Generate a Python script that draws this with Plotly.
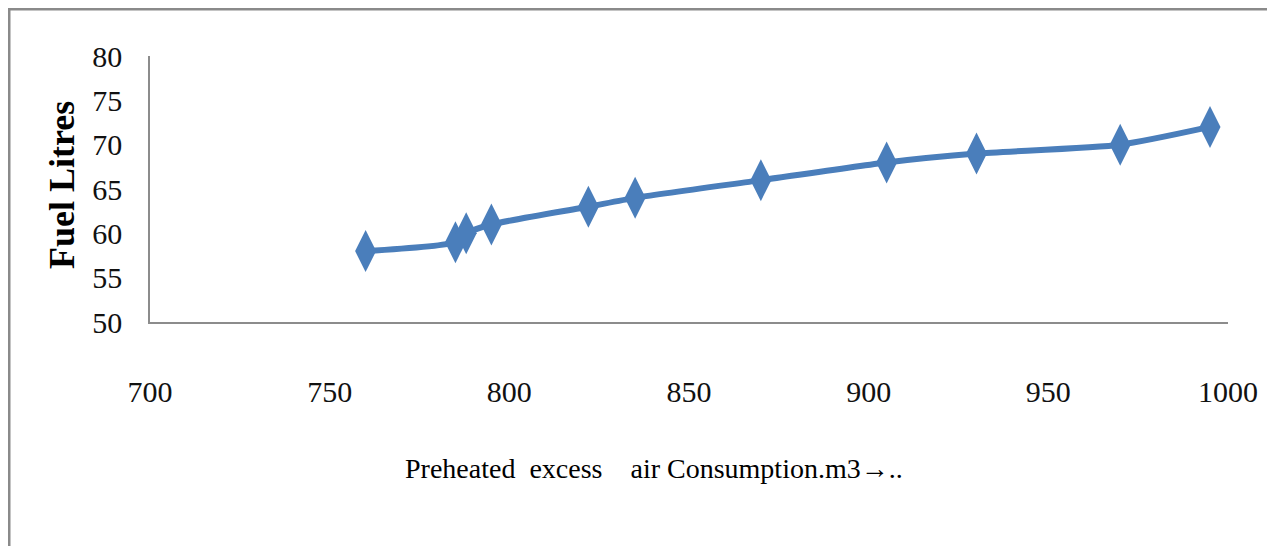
import plotly.graph_objects as go

air_consumption = [760, 785, 788, 795, 822, 835, 870, 905, 930, 970, 995]
fuel_litres = [58, 59, 60, 61, 63, 64, 66, 68, 69, 70, 72]
x_ticks = [700, 750, 800, 850, 900, 950, 1000]
y_ticks = [50, 55, 60, 65, 70, 75, 80]

OFF = 8  # page body margin
W, H = 1275, 546
L, R, T, B = 150 - OFF, 55, 56 - OFF, 232
pw, ph = W - L - R, H - T - B

def px(x):
    return (x - OFF - L) / pw

def py(y):
    return (H - B - (y - OFF)) / ph

FONT = "Liberation Serif, Times New Roman, serif"
BLUE = "#4a7ebb"

fig = go.Figure(go.Scatter(
    x=air_consumption, y=fuel_litres, mode="lines+markers",
    line=dict(color=BLUE, width=6, shape="spline", smoothing=0.6),
    marker=dict(symbol="diamond-tall", size=30, color=BLUE),
    showlegend=False,
))

fig.update_xaxes(range=[700, 1000], tickvals=x_ticks, showgrid=False, zeroline=False,
                 showline=True, linecolor="#8c8c8c", linewidth=1.5, ticks="",
                 ticklabelstandoff=42, tickfont=dict(family=FONT, size=30, color="#111"))
fig.update_yaxes(range=[50, 80], tickvals=y_ticks, showgrid=False, zeroline=False,
                 showline=True, linecolor="#8c8c8c", linewidth=1.5, ticks="",
                 ticklabelstandoff=20, tickfont=dict(family=FONT, size=30, color="#111"))

shapes = [
    dict(type="rect", xref="paper", yref="paper", x0=px(OFF), x1=px(W + OFF), y0=py(OFF), y1=py(OFF + 2.5),
         fillcolor="#8a8a8a", line_width=0, layer="above"),
    dict(type="rect", xref="paper", yref="paper", x0=px(OFF), x1=px(OFF + 2.5), y0=py(OFF), y1=py(H + OFF),
         fillcolor="#8a8a8a", line_width=0, layer="above"),
]

annotations = [
    dict(text="<b>Fuel Litres</b>", xref="paper", yref="paper", x=px(62), y=py(185),
         textangle=-90, showarrow=False, xanchor="center", yanchor="middle",
         font=dict(family=FONT, size=36, color="#000")),
    dict(text="Preheated\u00a0\u00a0excess\u00a0\u00a0\u00a0\u00a0air Consumption.m3\u2192..",
         xref="paper", yref="paper", x=px(654), y=py(468), showarrow=False,
         xanchor="center", yanchor="middle",
         font=dict(family=FONT, size=28, color="#000")),
]

fig.update_layout(
    width=W, height=H,
    margin=dict(l=L, r=R, t=T, b=B),
    paper_bgcolor="white", plot_bgcolor="white",
    shapes=shapes, annotations=annotations,
)

fig.write_html("out.html")
